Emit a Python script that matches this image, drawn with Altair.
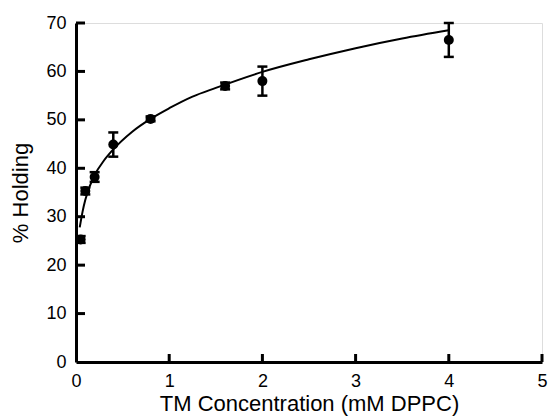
import altair as alt
import pandas as pd

# Measured data (TM concentration in mM DPPC, % holding, error)
conc = [0.05, 0.1, 0.2, 0.4, 0.8, 1.6, 2.0, 4.0]
holding = [25.3, 35.3, 38.2, 44.9, 50.2, 57.0, 58.0, 66.5]
err = [0.7, 0.7, 1.0, 2.5, 0.5, 0.7, 3.0, 3.5]

# Fitted curve
fit_x = [0.04, 0.07, 0.1, 0.15, 0.2, 0.3, 0.4, 0.6, 0.8, 1.0, 1.25, 1.5, 2.0, 2.5, 3.0, 3.5, 4.0]
fit_y = [27.8, 31.0, 33.5, 36.4, 38.6, 41.6, 43.9, 47.5, 50.2, 52.4, 54.8, 56.6, 59.9, 62.5, 64.8, 66.8, 68.5]

x_ticks = [0, 1, 2, 3, 4, 5]
y_ticks = [0, 10, 20, 30, 40, 50, 60, 70]

W, H = 466, 339
FONT = "Liberation Sans"

pts = pd.DataFrame({"x": conc, "y": holding,
                    "lo": [h - e for h, e in zip(holding, err)],
                    "hi": [h + e for h, e in zip(holding, err)]})
fit = pd.DataFrame({"x": fit_x, "y": fit_y})
xt = pd.DataFrame({"v": x_ticks[1:]})
yt = pd.DataFrame({"v": y_ticks[1:]})

xscale = alt.Scale(domain=[0, 5], nice=False, zero=False)
yscale = alt.Scale(domain=[0, 70], nice=False, zero=False)

xaxis = alt.Axis(values=x_ticks, format="d", title="TM Concentration (mM DPPC)",
                 grid=False, ticks=False, tickSize=0, domainColor="black", domainWidth=3,
                 labelFont=FONT, labelFontSize=18, labelColor="black", labelPadding=10,
                 titleFont=FONT, titleFontSize=22, titleFontWeight="normal", titleColor="black",
                 titlePadding=3, labelFlush=False)
yaxis = alt.Axis(values=y_ticks, format="d", title="% Holding",
                 grid=False, ticks=False, tickSize=0, domainColor="black", domainWidth=3,
                 labelFont=FONT, labelFontSize=18, labelColor="black", labelPadding=10,
                 titleFont=FONT, titleFontSize=22, titleFontWeight="normal", titleColor="black",
                 titlePadding=13, labelFlush=False)

X = alt.X("x:Q", scale=xscale, axis=xaxis)
Y = alt.Y("y:Q", scale=yscale, axis=yaxis)

curve = alt.Chart(fit).mark_line(color="black", strokeWidth=2, interpolate="monotone").encode(x=X, y=Y)
bars = alt.Chart(pts).mark_rule(color="black", strokeWidth=2.5).encode(x=X, y=alt.Y("lo:Q", scale=yscale), y2="hi:Q")
cap_hi = alt.Chart(pts).mark_tick(color="black", thickness=2.5, size=10, orient="horizontal", opacity=1).encode(
    x=X, y=alt.Y("hi:Q", scale=yscale))
cap_lo = alt.Chart(pts).mark_tick(color="black", thickness=2.5, size=10, orient="horizontal", opacity=1).encode(
    x=X, y=alt.Y("lo:Q", scale=yscale))
dots = alt.Chart(pts).mark_circle(color="black", size=100, opacity=1).encode(x=X, y=Y)

ytick_marks = alt.Chart(yt).mark_rule(color="black", strokeWidth=3).encode(
    y=alt.Y("v:Q", scale=yscale), x=alt.value(0), x2=alt.value(9))
xtick_marks = alt.Chart(xt).mark_rule(color="black", strokeWidth=3).encode(
    x=alt.X("v:Q", scale=xscale), y=alt.value(H), y2=alt.value(H - 8))

chart = alt.layer(ytick_marks, xtick_marks, curve, bars, cap_hi, cap_lo, dots).properties(
    width=W, height=H,
    padding={"left": 76, "top": 23, "right": 7, "bottom": 56},
    autosize="none",
).configure_view(stroke=None).configure(background="white")

chart.save("out.html", embed_options={"renderer": "svg", "actions": False})
